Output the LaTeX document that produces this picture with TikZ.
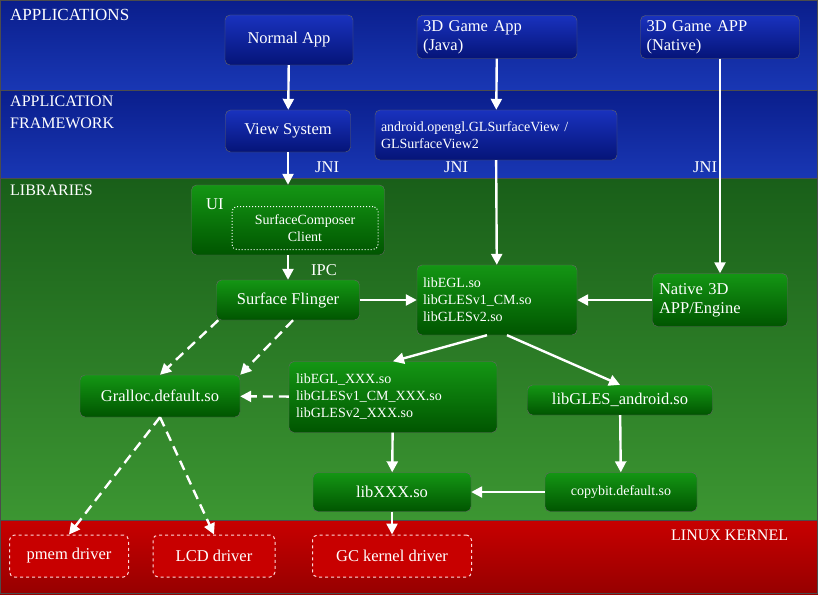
\documentclass[tikz,border=0pt]{standalone}
\usepackage{fontspec}
\setmainfont{Liberation Serif}
\usetikzlibrary{arrows.meta}
\begin{document}
\begin{tikzpicture}[x=1pt,y=-1pt,
  bx/.style={rounded corners=5pt,draw=black!60,text=white,font=\fontsize{16.5}{19}\selectfont,align=left,inner sep=0pt},
  gb/.style={bx,top color={rgb,255:red,20;green,150;blue,20},bottom color={rgb,255:red,0;green,85;blue,0}},
  bb/.style={bx,top color={rgb,255:red,25;green,50;blue,190},bottom color={rgb,255:red,5;green,20;blue,120}},
  rb/.style={bx,draw=white!85!red,dashed,line width=1pt,fill={rgb,255:red,200;green,0;blue,0}},
  sm/.style={font=\fontsize{14}{17}\selectfont},
  ar/.style={draw=white,line width=2.4pt,-{Triangle[length=11pt,width=11pt]}},
  da/.style={ar,dash pattern=on 10pt off 6pt},
  lab/.style={text=white,font=\fontsize{16.5}{19}\selectfont,anchor=north west,inner sep=0pt,align=left}]
\useasboundingbox (0,0) rectangle (818,594);
% bands
\shade[top color={rgb,255:red,10;green,30;blue,140},bottom color={rgb,255:red,25;green,55;blue,180}] (0,0) rectangle (818,90);
\shade[top color={rgb,255:red,10;green,30;blue,140},bottom color={rgb,255:red,25;green,55;blue,180}] (0,90) rectangle (818,178);
\shade[top color={rgb,255:red,25;green,95;blue,25},bottom color={rgb,255:red,60;green,150;blue,50}] (0,178) rectangle (818,520);
\shade[top color={rgb,255:red,200;green,0;blue,0},bottom color={rgb,255:red,150;green,0;blue,0}] (0,520) rectangle (818,594);
\draw[black!70,line width=0.8pt] (0,90)--(818,90) (0,178)--(818,178) (0,520)--(818,520) (0.5,0.5) rectangle (817.5,593.5);
\node[lab,font=\fontsize{17}{19}\selectfont] (t1) at (10,9) {APPLICATIONS};
\node[lab,font=\fontsize{16}{22}\selectfont] (t2) at (10,96) {APPLICATION\\FRAMEWORK};
\node[lab,font=\fontsize{16}{19}\selectfont] (t3) at (10,185) {LIBRARIES};
\node[lab,font=\fontsize{16}{19}\selectfont] (t4) at (671,530) {LINUX KERNEL};
% nodes
\node[bb,minimum width=128,minimum height=50] (na) at (289,40) {Normal App};
\node[bb,minimum width=160,minimum height=43,text width=148] (ja) at (497,37) {3D Game App\\(Java)};
\node[bb,minimum width=159,minimum height=43,text width=147] (nn) at (720,37) {3D Game APP\\(Native)};
\node[bb,minimum width=125,minimum height=42] (vs) at (288,131) {View System};
\node[bb,sm,minimum width=242,minimum height=50,text width=230] (gl) at (496,135) {android.opengl.GLSurfaceView /\\GLSurfaceView2};
\node[gb,minimum width=193,minimum height=70] (ui) at (288,220) {};
\node[lab] (uil) at (206,198) {UI};
\node[draw=white,dotted,line width=1pt,rounded corners=5pt,minimum width=146,minimum height=43,text=white,sm,align=center,text width=140,inner sep=0pt] (sc) at (305,228) {SurfaceComposer\\Client};
\node[gb,minimum width=143,minimum height=40] (sf) at (288,300) {Surface Flinger};
\node[gb,sm,minimum width=160,minimum height=70,text width=148] (egl) at (497,300) {libEGL.so\\libGLESv1\_CM.so\\libGLESv2.so};
\node[gb,minimum width=135,minimum height=53,text width=122] (n3) at (720,300) {Native 3D\\APP/Engine};
\node[gb,minimum width=160,minimum height=42] (gr) at (160,396) {Gralloc.default.so};
\node[gb,sm,minimum width=208,minimum height=71,text width=194] (ex) at (393,397) {libEGL\_XXX.so\\libGLESv1\_CM\_XXX.so\\libGLESv2\_XXX.so};
\node[gb,minimum width=185,minimum height=30] (ga) at (620,400) {libGLES\_android.so};
\node[gb,minimum width=158,minimum height=39] (lx) at (392,492) {libXXX.so};
\node[gb,sm,minimum width=152,minimum height=39] (cb) at (621,492) {copybit.default.so};
\node[rb,minimum width=119,minimum height=42] (pm) at (69,556) {pmem driver};
\node[rb,minimum width=122,minimum height=42] (lcd) at (214,556) {LCD driver};
\node[rb,minimum width=159,minimum height=42] (gc) at (392,556) {GC kernel driver};
\node[lab] (j1) at (315,161) {JNI};
\node[lab] (j2) at (444,161) {JNI};
\node[lab] (j3) at (693,161) {JNI};
\node[lab] (ipc) at (311,264) {IPC};
% arrows
\draw[ar] (na) -- (vs);
\draw[ar] (ja) -- (gl);
\draw[ar] (vs) -- (ui);
\draw[ar] (gl) -- (egl);
\draw[ar] (nn) -- (n3);
\draw[ar] (ui) -- (sf);
\draw[ar] (sf) -- (egl);
\draw[ar] (n3) -- (egl);
\draw[ar] (egl.south) ++(-10,0) coordinate (e1) -- (ex.north);
\draw[ar] (egl.south) ++(10,0) coordinate (e2) -- (ga.north);
\draw[da] (ex) -- (gr);
\draw[da] (sf.south west) ++(2,0) coordinate (s1) -- (gr.north);
\draw[da] (sf.south) ++(5,0) coordinate (s2) -- (gr.north east);
\draw[ar] (ex) -- (lx);
\draw[ar] (ga) -- (cb);
\draw[ar] (cb) -- (lx);
\draw[ar] (lx) -- (gc);
\draw[da] (gr.south) -- (pm.north);
\draw[da] (gr.south) -- (lcd.north);
\end{tikzpicture}
\end{document}
